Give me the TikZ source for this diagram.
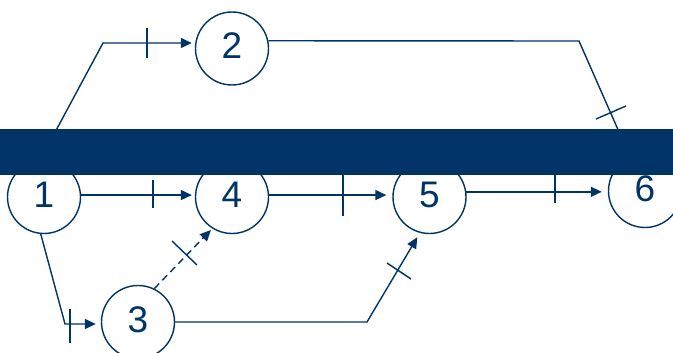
\documentclass[tikz,border=0pt]{standalone}
\usepackage{fontspec}
\setmainfont{Liberation Sans}
\usetikzlibrary{arrows.meta}
\definecolor{navy}{RGB}{0,51,102}
\begin{document}
\begin{tikzpicture}[x=1pt,y=-1pt,
  evt/.style={circle, draw=navy, fill=white, line width=1.4pt,
    minimum size=73pt, inner sep=0pt, text=navy,
    font=\fontsize{37}{37}\selectfont, text height=27pt, text depth=6pt},
  flow/.style={draw=navy, line width=1.4pt, -{Triangle[length=11pt,width=10pt]}},
  dummy/.style={dash pattern=on 7pt off 4.5pt},
  tickmark/.style={draw=navy, line width=1.4pt},
]
\clip (0,0) rectangle (673,353);
\useasboundingbox (0,0) rectangle (673,353);

% events
\node[evt] (n1) at (44,197) {1};
\node[evt] (n2) at (232,48.5) {2};
\node[evt] (n3) at (138,322) {3};
\node[evt] (n4) at (232,197) {4};
\node[evt] (n5) at (429.5,197) {5};
\node[evt] (n6) at (645,191) {6};

% bend points
\coordinate (c12) at (103,43);
\coordinate (c26) at (579,41);
\coordinate (c13) at (65,324);
\coordinate (c35) at (367,322);

% activities
\draw[flow, shorten >=3pt] (n1.96) -- (c12) -- (n2.west |- c12);
\draw[flow] (n2.12) -- (c26) -- (n6);
\draw[flow, shorten >=3pt] (n1.3) -- (n4.177);
\draw[flow, shorten >=6pt] (n4.3) -- (n5.177);
\draw[flow, shorten >=6pt] (n5.8) -- (n5.8 -| n6.west);
\draw[flow, shorten >=5pt] (n1.-95) -- (c13) -- (n3.west |- c13);
\draw[flow, dummy, shorten >=2pt] (n3.64) -- (n4.-122);
\draw[flow, shorten >=5pt] (n3.east |- c35) -- (c35) -- (n5.-105);

% tick marks across the activities
\coordinate (t12a) at (147,28);  \coordinate (t12b) at (147,58);
\coordinate (t26a) at (596,119); \coordinate (t26b) at (626,106);
\coordinate (t14a) at (153,180); \coordinate (t14b) at (153,208);
\coordinate (t45a) at (343,174); \coordinate (t45b) at (343,216);
\coordinate (t56a) at (555,172); \coordinate (t56b) at (555,203);
\coordinate (t13a) at (70,309);  \coordinate (t13b) at (70,343);
\coordinate (t34a) at (172,241); \coordinate (t34b) at (197,265);
\coordinate (t35a) at (387,263); \coordinate (t35b) at (411,279);
\foreach \t in {12,26,14,45,56,13,34,35}
  \draw[tickmark] (t\t a) -- (t\t b);

% banner across the chart
\fill[navy] (0,129) rectangle (673,175);
\end{tikzpicture}
\end{document}
